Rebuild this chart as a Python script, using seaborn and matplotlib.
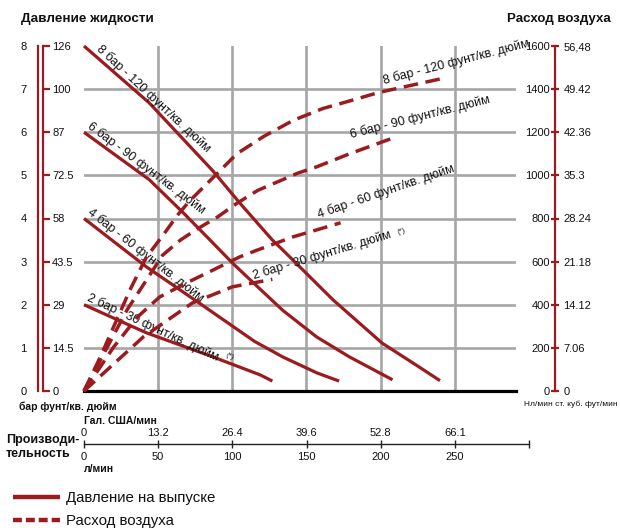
import numpy as np
import pandas as pd
import matplotlib
matplotlib.use("Agg")
import matplotlib.pyplot as plt
from matplotlib.lines import Line2D
import seaborn as sns

# ---------------- data ----------------
# fluid pressure curves (x: l/min, y: bar)
flow_p8 = [0, 44, 87, 105, 127, 134, 168, 201, 224, 240]
bar_p8 = [8.0, 6.68, 5.1, 4.36, 3.5, 3.27, 2.11, 1.11, 0.6, 0.24]
flow_p6 = [0, 44, 67, 85, 100, 112, 134, 157, 179, 208]
bar_p6 = [6.0, 4.9, 4.13, 3.5, 2.97, 2.58, 1.87, 1.25, 0.79, 0.26]
flow_p4 = [0, 42, 76, 115, 134, 157, 172]
bar_p4 = [4.0, 2.88, 2.08, 1.15, 0.79, 0.42, 0.23]
flow_p2 = [0, 42, 87, 119, 127]
bar_p2 = [2.0, 1.35, 0.79, 0.37, 0.23]

# air consumption curves (x: l/min, y: Nl/min)
flow_a8 = [0, 11, 31, 42, 53, 63, 71, 90, 103, 121, 141, 161, 179, 199, 242]
nl_a8 = [0, 158, 469, 620, 720, 815, 880, 1010, 1100, 1180, 1255, 1310, 1345, 1385, 1450]
flow_a6 = [0, 29, 53, 65, 76, 90, 103, 117, 144, 157, 179, 211]
nl_a6 = [0, 376, 630, 700, 750, 807, 870, 930, 1010, 1040, 1100, 1180]
flow_a4 = [0, 20, 36, 51, 69, 87, 105, 117, 141, 173]
nl_a4 = [0, 204, 343, 436, 501, 561, 622, 654, 715, 780]
flow_a2 = [0, 40, 73, 100, 127]
nl_a2 = [0, 251, 408, 483, 518]

curve_names = ["8 бар - 120 фунт/кв. дюйм", "6 бар - 90 фунт/кв. дюйм",
               "4 бар - 60 фунт/кв. дюйм", "2 бар - 30 фунт/кв. дюйм"]

bar_ticks = [0, 1, 2, 3, 4, 5, 6, 7, 8]
psi_labels = ["0", "14.5", "29", "43.5", "58", "72.5", "87", "100", "126"]
nl_ticks = [0, 200, 400, 600, 800, 1000, 1200, 1400, 1600]
cfm_labels = ["0", "7.06", "14.12", "21.18", "28.24", "35.3", "42.36", "49.42", "56,48"]
lpm_ticks = [0, 50, 100, 150, 200, 250, 300]
lpm_labels = ["0", "50", "100", "150", "200", "250", ""]
gpm_labels = ["0", "13.2", "26.4", "39.6", "52.8", "66.1", ""]

# ---------------- style ----------------
sns.set_theme(style="white")
plt.rcParams["font.family"] = ["Liberation Sans", "DejaVu Sans"]
RED = "#9b1b1e"
GRID = "#a6a6a6"
TXT = "#111111"

W, H = 620, 530
fig = plt.figure(figsize=(6.2, 5.3), dpi=100)


def fx(px):
    return px / W


def fy(py):
    return 1 - py / H


B = fy(391)
HT = (391 - 46) / H

# main axes (pressure)
ax = fig.add_axes([fx(84), B, (516 - 84) / W, HT])
ax.set_xlim(0, 432 / 1.4833)
ax.set_ylim(0, 8)
ax.set_xticks([50, 100, 150, 200, 250])
ax.set_yticks([1, 2, 3, 4, 5, 6, 7])
ax.grid(True, color=GRID, lw=1.9)
ax.set_axisbelow(True)
ax.tick_params(length=0, labelbottom=False, labelleft=False)
for s in ["top", "left", "right"]:
    ax.spines[s].set_visible(False)
ax.spines["bottom"].set_color("black")
ax.spines["bottom"].set_linewidth(2.3)
ax.spines["bottom"].set_zorder(5)

press = [(flow_p8, bar_p8), (flow_p6, bar_p6), (flow_p4, bar_p4), (flow_p2, bar_p2)]
for name, (fl, bv) in zip(curve_names, press):
    df = pd.DataFrame({"flow": fl, "bar": bv})
    sns.lineplot(data=df, x="flow", y="bar", ax=ax, color=RED, lw=2.3,
                 sort=False, estimator=None)
    ax.lines[-1].set_clip_on(False)
    ax.lines[-1].set_solid_capstyle("butt")
    ax.lines[-1].set_solid_joinstyle("round")
ax.set_xlabel("")
ax.set_ylabel("")

# air axes
ax2 = ax.twinx()
ax2.set_ylim(0, 1600)
for s in ax2.spines.values():
    s.set_visible(False)
ax2.tick_params(length=0, labelright=False)
ax2.grid(False)
air = [(flow_a8, nl_a8), (flow_a6, nl_a6), (flow_a4, nl_a4), (flow_a2, nl_a2)]
for name, (fl, nv) in zip(curve_names, air):
    df = pd.DataFrame({"flow": fl, "nl": nv})
    sns.lineplot(data=df, x="flow", y="nl", ax=ax2, color=RED, lw=2.5,
                 sort=False, estimator=None)
    ax2.lines[-1].set_dashes((4.2, 2.2))
    ax2.lines[-1].set_clip_on(False)
ax2.set_xlabel("")
ax2.set_ylabel("")

# curve labels
lab_kw = dict(fontsize=9, color=TXT, rotation_mode="anchor", ha="left", va="bottom")
p_pos = [(7.0, 7.86, -43), (1.0, 6.05, -37), (1.0, 4.05, -38), (0.6, 2.03, -25)]
for name, (x, y, r) in zip(curve_names, p_pos):
    ax.text(x, y, name, rotation=r, clip_on=False, **lab_kw)
ax.text(95, 0.76, "(*)", rotation=-25, fontsize=5.5, color=TXT,
        rotation_mode="anchor", ha="left", va="bottom")
a_pos = [(203, 1410, 14.5), (181, 1160, 14.3), (159, 788, 19), (115, 505, 16.8)]
for name, (x, y, r) in zip(curve_names, a_pos):
    ax2.text(x, y, name, rotation=r, clip_on=False, **lab_kw)
ax2.text(212, 718, "(*)", rotation=16.8, fontsize=5.5, color=TXT,
         rotation_mode="anchor", ha="left", va="bottom")

# left double axis (bar / psi)
ax_bar = fig.add_axes([fx(37.5), B, 0.0003, HT])
ax_bar.set_ylim(0, 8)
ax_bar.set_yticks(bar_ticks)
ax_bar.set_yticklabels([str(v) for v in bar_ticks])
ax_bar.set_xticks([])
for s in ["top", "right", "bottom"]:
    ax_bar.spines[s].set_visible(False)
ax_bar.spines["left"].set_color(RED)
ax_bar.spines["left"].set_linewidth(1.6)
ax_bar.tick_params(axis="y", direction="out", length=4.5, width=1.6, color=RED,
                   labelsize=8, labelcolor=TXT, pad=3.5)
ax_bar.patch.set_visible(False)

ax_psi = fig.add_axes([fx(42.5), B, 0.0003, HT])
ax_psi.set_ylim(0, 8)
ax_psi.set_yticks(bar_ticks)
ax_psi.set_yticklabels(psi_labels)
ax_psi.set_xticks([])
ax_psi.yaxis.tick_right()
for s in ["top", "left", "bottom"]:
    ax_psi.spines[s].set_visible(False)
ax_psi.spines["right"].set_color(RED)
ax_psi.spines["right"].set_linewidth(1.6)
ax_psi.tick_params(axis="y", direction="out", length=4.8, width=1.6, color=RED,
                   labelsize=8, labelcolor=TXT, pad=2)
ax_psi.patch.set_visible(False)

# right axis (Nl/min / cfm)
ax_r = fig.add_axes([fx(555), B, 0.0003, HT])
ax_r.set_ylim(0, 1600)
ax_r.set_yticks(nl_ticks)
ax_r.set_yticklabels([str(v) for v in nl_ticks])
ax_r.set_xticks([])
for s in ["top", "right", "bottom"]:
    ax_r.spines[s].set_visible(False)
ax_r.spines["left"].set_color(RED)
ax_r.spines["left"].set_linewidth(1.6)
ax_r.tick_params(axis="y", direction="inout", length=6, width=1.6, color=RED,
                 labelsize=8, labelcolor=TXT, pad=0.5)
ax_r.patch.set_visible(False)
ax_r2 = ax_r.twinx()
ax_r2.set_ylim(0, 1600)
ax_r2.set_yticks(nl_ticks)
ax_r2.set_yticklabels(cfm_labels)
for s in ax_r2.spines.values():
    s.set_visible(False)
ax_r2.tick_params(axis="y", length=0, labelsize=8, labelcolor=TXT, pad=6)

# bottom double flow axis
axb = fig.add_axes([fx(84), fy(443.5), (529 - 84) / W, 0.0003])
axb.set_xlim(0, 300)
axb.set_xticks(lpm_ticks)
axb.set_xticklabels(lpm_labels)
axb.set_yticks([])
for s in ["top", "left", "right"]:
    axb.spines[s].set_visible(False)
axb.spines["bottom"].set_color("#222222")
axb.spines["bottom"].set_linewidth(1.0)
axb.tick_params(axis="x", direction="inout", length=6, width=1.0, color="#222222",
                labelsize=8, labelcolor=TXT, pad=3)
axb.patch.set_visible(False)
axt = axb.twiny()
axt.set_xlim(0, 300)
axt.set_xticks(lpm_ticks)
axt.set_xticklabels(gpm_labels)
for s in axt.spines.values():
    s.set_visible(False)
axt.tick_params(axis="x", length=0, labelsize=8, labelcolor=TXT, pad=3.5)

# texts
fig.text(fx(21), fy(19), "Давление жидкости", fontsize=9.7, weight="bold",
         ha="left", va="center", color=TXT)
fig.text(fx(611), fy(19), "Расход воздуха", fontsize=9.5, weight="bold",
         ha="right", va="center", color=TXT)
fig.text(fx(19), fy(407), "бар фунт/кв. дюйм", fontsize=7.5, weight="bold",
         ha="left", va="center", color=TXT)
fig.text(fx(84), fy(421), "Гал. США/мин", fontsize=7.5, weight="bold",
         ha="left", va="center", color=TXT)
fig.text(fx(84), fy(469), "л/мин", fontsize=7.5, weight="bold",
         ha="left", va="center", color=TXT)
fig.text(fx(6), fy(447), "Производи-\nтельность", fontsize=9, weight="bold",
         ha="left", va="center", color=TXT, linespacing=1.15)
fig.text(fx(524), fy(404), "Нл/мин ст. куб. фут/мин", fontsize=6,
         ha="left", va="center", color=TXT)

# legend
handles = [Line2D([], [], color=RED, lw=3.2, solid_capstyle="butt"),
           Line2D([], [], color=RED, lw=3.2, dashes=(2.0, 0.9))]
fig.legend(handles, ["Давление на выпуске", "Расход воздуха"],
           loc="upper left", bbox_to_anchor=(fx(13), fy(491)), frameon=False,
           fontsize=10.8, handlelength=3.1, handletextpad=0.4, labelspacing=0.6,
           borderaxespad=0, borderpad=0, labelcolor=TXT)

fig.savefig("out.png", dpi=100)
